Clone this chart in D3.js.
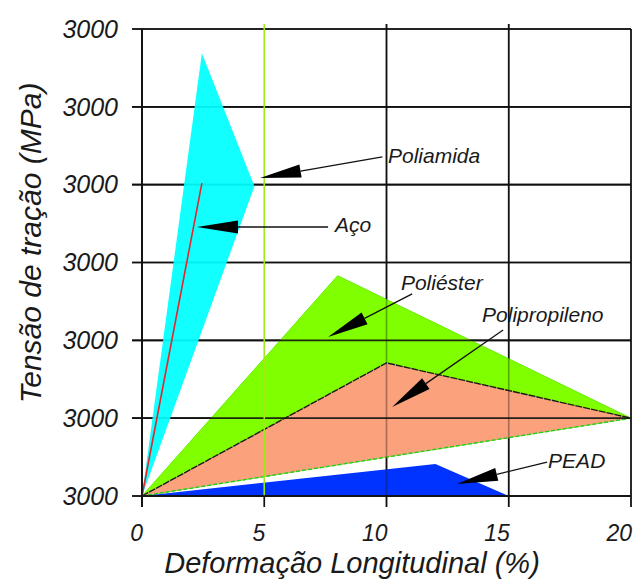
<!DOCTYPE html>
<html>
<head>
<meta charset="utf-8">
<script src="https://cdn.jsdelivr.net/npm/d3@7"></script>
<style>
  html, body { margin: 0; padding: 0; background: #fff; }
  svg text { font-family: "Liberation Sans", Arial, sans-serif; font-style: italic; fill: #1a1a1a; }
</style>
</head>
<body>
<svg id="chart" width="644" height="580"></svg>
<script>
// Strain (%) along x, tensile stress (MPa) along y
const xTicks = [0, 5, 10, 15, 20];
const xTickLabels = ["0", "5", "10", "15", "20"];
const yTicks = [0, 500, 1000, 1500, 2000, 2500, 3000];
const yTickLabels = ["3000", "3000", "3000", "3000", "3000", "3000", "3000"];

// Material envelopes: [strain %, stress MPa]
const poliamida = [[0, 0], [2.45, 2845], [4.6, 1990]];
const aco = [[0, 0], [2.45, 2010]];
const poliester = [[0, 0], [8, 1415], [20, 500]];
const polipropileno = [[0, 0], [10, 855], [20, 500]];
const pead = [[0, 0], [12, 205], [15, 0]];

// Callouts: label, text anchor, arrow tail, arrow tip (data units)
const callouts = [
  { label: "Poliamida",     text: [10.06, 2139], tail: [9.83, 2178],  tip: [4.83, 2043] },
  { label: "Aço",           text: [7.89, 1696],  tail: [7.61, 1728],  tip: [2.25, 1728] },
  { label: "Poliéster",     text: [10.59, 1323], tail: [11.05, 1298], tip: [7.61, 1021] },
  { label: "Polipropileno", text: [13.91, 1118], tail: [14.77, 1066], tip: [10.23, 572] },
  { label: "PEAD",          text: [16.61, 180],  tail: [16.57, 218],  tip: [12.88, 77] }
];

const svg = d3.select("#chart");
const x = d3.scaleLinear().domain([0, 20]).range([142, 631]);
const y = d3.scaleLinear().domain([0, 3000]).range([496, 29]);
const line = d3.line().x(d => x(d[0])).y(d => y(d[1]));
const poly = pts => line(pts) + "Z";

const gridW = 1.7;

// Base grid
const grid = svg.append("g");
function drawGrid(g, hOpacity, vOpacity) {
  g.selectAll(".h").data(yTicks).join("line")
    .attr("x1", x(0) - 10).attr("x2", x(20))
    .attr("y1", d => y(d)).attr("y2", d => y(d))
    .attr("stroke", "#111").attr("stroke-width", gridW).attr("stroke-opacity", hOpacity);
  g.selectAll(".v").data(xTicks.filter(d => d !== 5)).join("line")
    .attr("x1", d => x(d)).attr("x2", d => x(d))
    .attr("y1", d => (d === 0 || d === 20) ? y(3000) : y(3000) - 5)
    .attr("y2", y(0) + 11)
    .attr("stroke", "#111").attr("stroke-width", gridW).attr("stroke-opacity", vOpacity);
}
drawGrid(grid, 1, 1);
// tick below the 5% mark
grid.append("line")
  .attr("x1", x(5)).attr("x2", x(5)).attr("y1", y(0)).attr("y2", y(0) + 11)
  .attr("stroke", "#111").attr("stroke-width", gridW);

// Envelopes
const areas = svg.append("g");
areas.append("path").attr("d", poly(poliester))
  .attr("fill", "#80ff00").attr("stroke", "#66ee00").attr("stroke-width", 1);
areas.append("path").attr("d", poly(polipropileno))
  .attr("fill", "#fba17c").attr("stroke", "none");
areas.append("path").attr("d", line(polipropileno.slice(0, 3)))
  .attr("fill", "none").attr("stroke", "#1a1a1a").attr("stroke-width", 1.4)
  .attr("stroke-dasharray", "7,1");
areas.append("path").attr("d", line([polipropileno[0], polipropileno[2]]))
  .attr("fill", "none").attr("stroke", "#22cc22").attr("stroke-width", 1.4)
  .attr("stroke-dasharray", "4,2");
areas.append("path").attr("d", poly(pead))
  .attr("fill", "#0033ff").attr("stroke", "none");

// Grid lines showing through the filled envelopes
drawGrid(svg.append("g"), 0.9, 0.35);

// 5% guide line
svg.append("line")
  .attr("x1", x(5)).attr("x2", x(5)).attr("y1", y(3000) - 5).attr("y2", y(0))
  .attr("stroke", "#9fe81a").attr("stroke-width", 1.6);

// Polyamide envelope and steel line
svg.append("path").attr("d", poly(poliamida))
  .attr("fill", "#00ffff").attr("fill-opacity", 0.93).attr("stroke", "none");
svg.append("path").attr("d", line(aco))
  .attr("fill", "none").attr("stroke", "#e0282f").attr("stroke-width", 1.6);

// Axis lines redrawn on top
svg.append("line").attr("x1", x(0)).attr("x2", x(20)).attr("y1", y(0)).attr("y2", y(0))
  .attr("stroke", "#111").attr("stroke-width", gridW);
svg.append("line").attr("x1", x(0)).attr("x2", x(0)).attr("y1", y(3000)).attr("y2", y(0) + 11)
  .attr("stroke", "#111").attr("stroke-width", gridW);

// Tick labels
svg.append("g").selectAll("text").data(yTicks).join("text")
  .attr("x", 118).attr("y", d => y(d)).attr("dy", "0.35em")
  .attr("text-anchor", "end").attr("font-size", 25)
  .text((d, i) => yTickLabels[i]);
svg.append("g").selectAll("text").data(xTicks).join("text")
  .attr("x", d => x(d) + 1).attr("y", 541)
  .attr("text-anchor", "end").attr("font-size", 23)
  .text((d, i) => xTickLabels[i]);

// Axis titles
svg.append("text").attr("x", 352).attr("y", 573).attr("text-anchor", "middle")
  .attr("font-size", 29).text("Deformação Longitudinal (%)");
svg.append("text").attr("transform", "translate(41,243) rotate(-90)")
  .attr("text-anchor", "middle").attr("font-size", 30).text("Tensão de tração (MPa)");

// Callouts with arrows
const cg = svg.append("g");
callouts.forEach(c => {
  const tx = x(c.tail[0]), ty = y(c.tail[1]);
  const px = x(c.tip[0]), py = y(c.tip[1]);
  const dx = tx - px, dy = ty - py, len = Math.hypot(dx, dy);
  const ux = dx / len, uy = dy / len;
  const headLen = 41, half = 6.5;
  const bx = px + ux * headLen, by = py + uy * headLen;
  cg.append("line").attr("x1", tx).attr("y1", ty).attr("x2", bx).attr("y2", by)
    .attr("stroke", "#111").attr("stroke-width", 1.3);
  cg.append("path")
    .attr("d", `M${px},${py}L${bx - uy * half},${by + ux * half}L${bx + uy * half},${by - ux * half}Z`)
    .attr("fill", "#000");
  cg.append("text").attr("x", x(c.text[0])).attr("y", y(c.text[1]))
    .attr("font-size", 21).text(c.label);
});
</script>
</body>
</html>
